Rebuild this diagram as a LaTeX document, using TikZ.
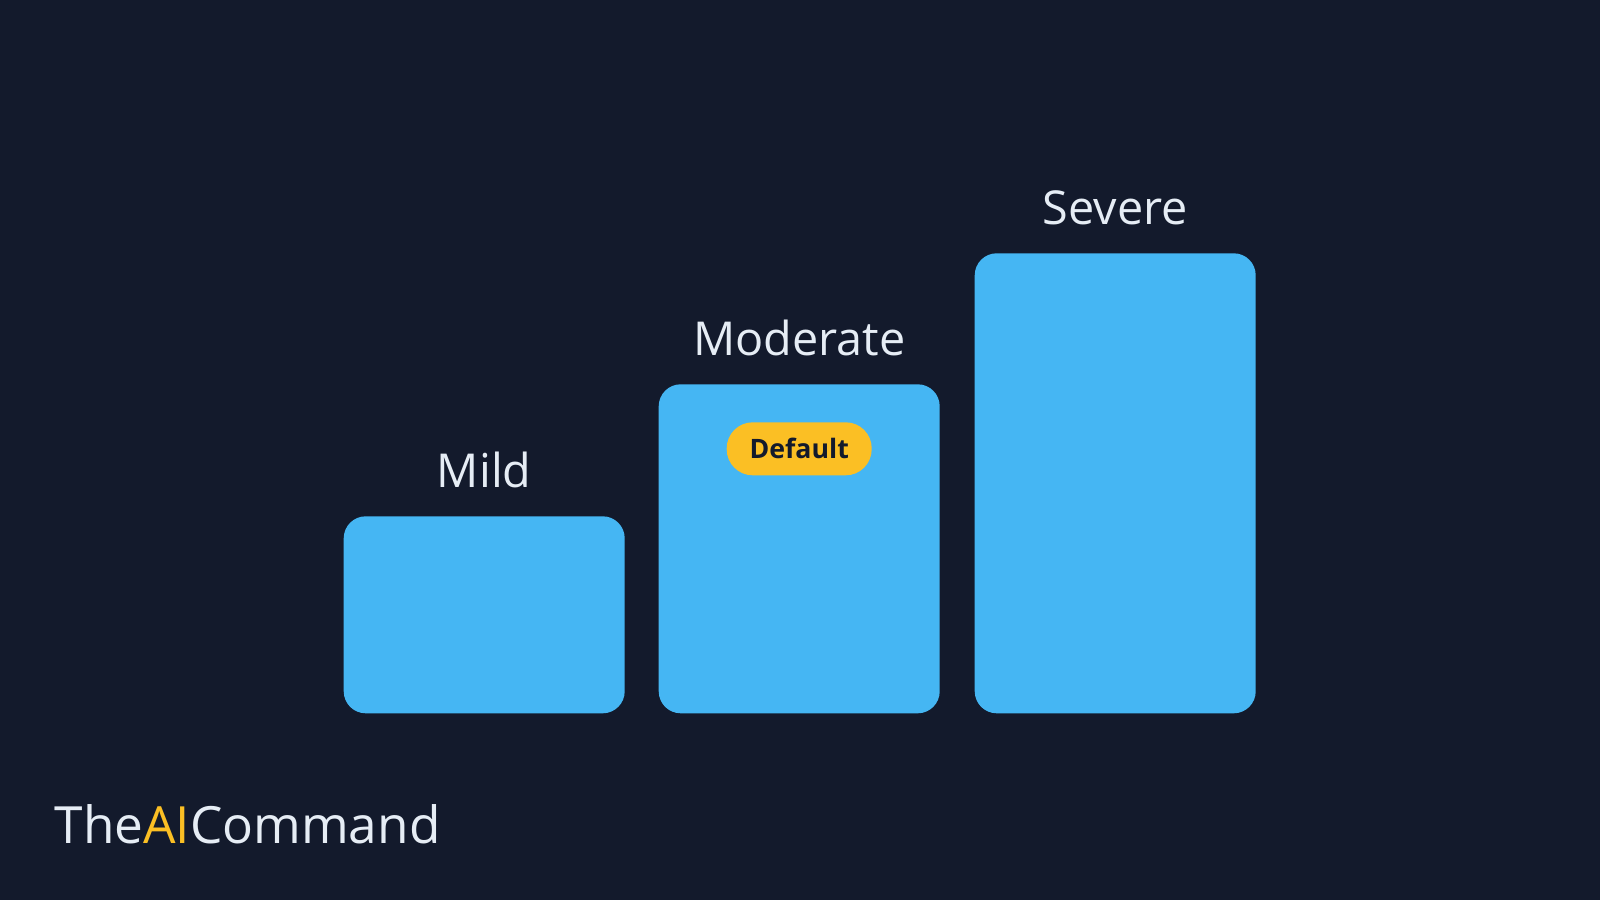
\documentclass[tikz,border=0pt]{standalone}
\usepackage{fontspec}
\setmainfont{Open Sans}
\usetikzlibrary{positioning}
\definecolor{bgNavy}{RGB}{19, 26, 44}
\definecolor{barBlue}{RGB}{69, 182, 243}
\definecolor{pillGold}{RGB}{251, 191, 36}
\definecolor{labelWhite}{RGB}{230, 237, 245}
\tikzset{
  bar/.style={fill=barBlue, draw=none, rounded corners=0.22cm, anchor=south west, minimum width=2.81cm, inner sep=0pt},
  level/.style={text=labelWhite, font=\fontsize{13.3}{15}\selectfont, above=0.15cm},
  pill/.style={fill=pillGold, rounded corners=0.26cm, minimum width=1.45cm, minimum height=0.53cm, inner sep=0pt, font=\bfseries\fontsize{7.6}{9}\selectfont, text=bgNavy}
}
\begin{document}
\begin{tikzpicture}
  % Background
  \fill[bgNavy] (0,0) rectangle (16,9);
  \useasboundingbox (0,0) rectangle (16,9);

  % Bars
  \node[bar, minimum height=1.97cm] (mild) at (3.43,1.86) {};
  \node[bar, minimum height=3.29cm] (moderate) at (6.58,1.86) {};
  \node[bar, minimum height=4.60cm] (severe) at (9.74,1.86) {};

  % Labels
  \node[level] at (mild.north) {Mild};
  \node[level] at (moderate.north) {Moderate};
  \node[level] at (severe.north) {Severe};

  % Default tag
  \node[pill, below=0.38cm of moderate.north] (default) {Default};

  % Logo
  \node[anchor=west, inner sep=0pt, text=labelWhite, font=\fontsize{14.6}{16}\selectfont] (logo) at (0.54,0.76) {The\textcolor{pillGold}{AI}Command};
\end{tikzpicture}
\end{document}
